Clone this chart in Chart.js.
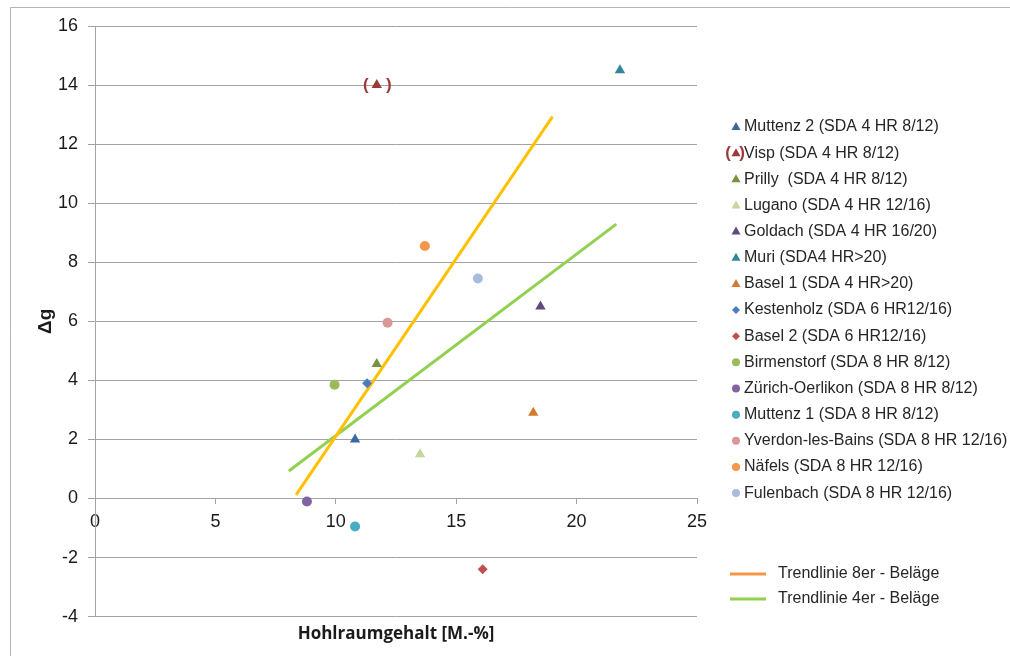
<!DOCTYPE html>
<html>
<head>
<meta charset="utf-8">
<script src="https://cdn.jsdelivr.net/npm/chart.js@4.4.1/dist/chart.umd.min.js"></script>
<style>
  body { margin: 0; background: #fff; }
  #wrap { width: 1010px; height: 656px; }
</style>
</head>
<body>
<div id="wrap"><canvas id="hohlraumChart"></canvas></div>
<script>
// Messstellen (Hohlraumgehalt vs. Delta g)
const siteNames = [
    'Muttenz 2 (SDA 4 HR 8/12)',
    'Visp (SDA 4 HR 8/12)',
    'Prilly  (SDA 4 HR 8/12)',
    'Lugano (SDA 4 HR 12/16)',
    'Goldach (SDA 4 HR 16/20)',
    'Muri (SDA4 HR>20)',
    'Basel 1 (SDA 4 HR>20)',
    'Kestenholz (SDA 6 HR12/16)',
    'Basel 2 (SDA 6 HR12/16)',
    'Birmenstorf (SDA 8 HR 8/12)',
    'Zürich-Oerlikon (SDA 8 HR 8/12)',
    'Muttenz 1 (SDA 8 HR 8/12)',
    'Yverdon-les-Bains (SDA 8 HR 12/16)',
    'Näfels (SDA 8 HR 12/16)',
    'Fulenbach (SDA 8 HR 12/16)'
];
const voidContent = [10.8, 11.7, 11.7, 13.5, 18.5, 21.8, 18.2, 11.3, 16.1, 9.95, 8.8, 10.8, 12.15, 13.7, 15.9];
const deltaG      = [2.0, 14.0, 4.55, 1.5, 6.5, 14.5, 2.9, 3.9, -2.4, 3.85, -0.1, -0.95, 5.95, 8.55, 7.45];

// Trendlinien (Anfangs- und Endpunkt)
const trend8X = [8.35, 19.0];
const trend8Y = [0.12, 12.93];
const trend4X = [8.05, 21.65];
const trend4Y = [0.93, 9.29];
const trendNames = ['Trendlinie 8er - Beläge', 'Trendlinie 4er - Beläge'];

const xTicks = { min: 0, max: 25, step: 5 };
const yTicks = { min: -4, max: 16, step: 2 };

const siteColors = ['#3C67A3', '#9B3B38', '#76923C', '#C4D79F', '#604A7B', '#31869B', '#D47A33',
                    '#4A7EBB', '#C0504D', '#9BBB59', '#8064A2', '#4BACC6', '#D99795', '#F79646', '#A9BCDE'];
const siteMarkers = ['triangle', 'triangle', 'triangle', 'triangle', 'triangle', 'triangle', 'triangle',
                     'rectRot', 'rectRot', 'circle', 'circle', 'circle', 'circle', 'circle', 'circle'];
const markerRadius = { triangle: 6, rectRot: 5, circle: 5 };
const VISP = 1;

const FONT = '"Liberation Sans", Arial, sans-serif';

const siteSets = siteNames.map((name, i) => ({
    label: name,
    data: [{ x: voidContent[i], y: deltaG[i] }],
    pointStyle: siteMarkers[i],
    pointRadius: markerRadius[siteMarkers[i]],
    pointHoverRadius: markerRadius[siteMarkers[i]],
    backgroundColor: siteColors[i],
    borderColor: siteColors[i],
    borderWidth: 0,
    order: 0
}));

const trendSets = [
    { label: trendNames[0], xs: trend8X, ys: trend8Y, color: '#FFC000', legendColor: '#F79646' },
    { label: trendNames[1], xs: trend4X, ys: trend4Y, color: '#92D050', legendColor: '#92D050' }
].map(t => ({
    label: t.label,
    data: t.xs.map((x, k) => ({ x: x, y: t.ys[k] })),
    showLine: true,
    borderColor: t.color,
    backgroundColor: t.color,
    legendColor: t.legendColor,
    borderWidth: 3,
    pointRadius: 0,
    order: 1
}));

function marker(ctx, style, x, y, r) {
    ctx.beginPath();
    if (style === 'triangle') {
        ctx.moveTo(x, y - r);
        ctx.lineTo(x + r * 0.9, y + r * 0.6);
        ctx.lineTo(x - r * 0.9, y + r * 0.6);
    } else if (style === 'rectRot') {
        ctx.moveTo(x, y - r);
        ctx.lineTo(x + r, y);
        ctx.lineTo(x, y + r);
        ctx.lineTo(x - r, y);
    } else {
        ctx.arc(x, y, r, 0, Math.PI * 2);
    }
    ctx.closePath();
    ctx.fill();
}

// Rahmen um das Diagramm
const framePlugin = {
    id: 'frame',
    beforeDraw(chart) {
        const ctx = chart.ctx;
        ctx.save();
        ctx.strokeStyle = '#b4b4b4';
        ctx.lineWidth = 1;
        ctx.beginPath();
        ctx.moveTo(10.5, chart.height + 5);
        ctx.lineTo(10.5, 7.5);
        ctx.lineTo(chart.width + 5, 7.5);
        ctx.stroke();
        ctx.restore();
    }
};

// Klammern um den Visp-Punkt
const bracketPlugin = {
    id: 'bracket',
    afterDatasetsDraw(chart) {
        const pt = chart.getDatasetMeta(VISP).data[0];
        if (!pt) return;
        const ctx = chart.ctx;
        ctx.save();
        ctx.fillStyle = siteColors[VISP];
        ctx.font = 'bold 17px ' + FONT;
        ctx.textAlign = 'center';
        ctx.textBaseline = 'middle';
        ctx.fillText('(', pt.x - 11, pt.y);
        ctx.fillText(')', pt.x + 12, pt.y);
        ctx.restore();
    }
};

// Legende rechts
const sideLegend = {
    id: 'sideLegend',
    afterDraw(chart) {
        const ctx = chart.ctx;
        const left = chart.chartArea.right + 39;
        ctx.save();
        ctx.font = '16px ' + FONT;
        ctx.textBaseline = 'middle';
        siteNames.forEach((name, i) => {
            const y = 127 + i * 26.15;
            ctx.fillStyle = siteColors[i];
            const st = siteMarkers[i];
            marker(ctx, st, left, y, st === 'triangle' ? 5 : 4);
            if (i === VISP) {
                ctx.font = 'bold 17px ' + FONT;
                ctx.textAlign = 'center';
                ctx.fillText('(', left - 8, y);
                ctx.fillText(')', left + 6, y);
                ctx.font = '16px ' + FONT;
            }
            ctx.textAlign = 'left';
            ctx.fillStyle = '#262626';
            ctx.fillText(name, left + 8, y);
        });
        trendSets.forEach((t, k) => {
            const y = 574 + k * 25;
            ctx.strokeStyle = t.legendColor;
            ctx.lineWidth = 3;
            ctx.beginPath();
            ctx.moveTo(left - 6, y);
            ctx.lineTo(left + 30, y);
            ctx.stroke();
            ctx.fillStyle = '#262626';
            ctx.fillText(t.label, left + 42, y);
        });
        ctx.restore();
    }
};

const gridGray = '#a3a3a3';

new Chart(document.getElementById('hohlraumChart'), {
    type: 'scatter',
    data: { datasets: siteSets.concat(trendSets) },
    options: {
        responsive: true,
        maintainAspectRatio: false,
        animation: false,
        layout: { padding: { top: 26, left: 10, right: 313, bottom: 0 } },
        plugins: {
            legend: { display: false },
            tooltip: { enabled: false },
            title: {
                display: true,
                position: 'bottom',
                fullSize: false,
                text: 'Hohlraumgehalt [M.-%]',
                color: '#1a1a1a',
                font: { family: '"Open Sans", sans-serif', size: 17, weight: 'bold' },
                padding: { top: 7, bottom: 12 }
            }
        },
        scales: {
            x: {
                type: 'linear',
                position: { y: 0 },
                min: xTicks.min,
                max: xTicks.max,
                ticks: { stepSize: xTicks.step, color: '#1a1a1a', font: { family: FONT, size: 18 }, padding: 8 },
                grid: { drawOnChartArea: false, drawTicks: true, tickLength: 5, color: gridGray },
                border: { color: gridGray }
            },
            y: {
                min: yTicks.min,
                max: yTicks.max,
                ticks: { stepSize: yTicks.step, color: '#1a1a1a', font: { family: FONT, size: 18 }, padding: 10 },
                grid: { color: gridGray, tickLength: 7 },
                border: { color: gridGray },
                title: {
                    display: true,
                    text: 'Δg',
                    color: '#1a1a1a',
                    font: { family: FONT, size: 19, weight: 'bold' },
                    padding: { top: 24, bottom: 0 }
                },
                afterFit(scale) { scale.width = 85; }
            }
        }
    },
    plugins: [framePlugin, bracketPlugin, sideLegend]
});
</script>
</body>
</html>
